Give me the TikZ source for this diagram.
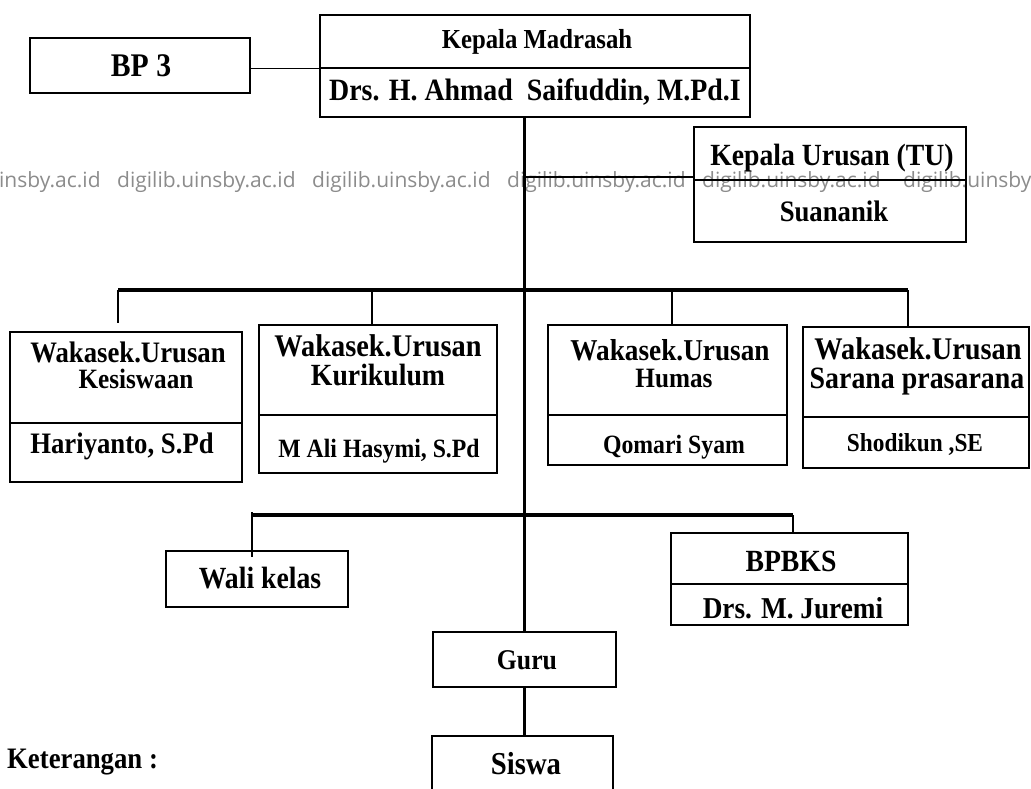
\documentclass[tikz,border=0pt]{standalone}
\usepackage{fontspec}
\setmainfont{Liberation Serif}[FakeStretch=0.9]
\newfontfamily\wmfont{Open Sans}
\newcommand\fsz[1]{\fontsize{#1}{#1}\selectfont}
\definecolor{wmgray}{RGB}{140,140,140}
\begin{document}
\begin{tikzpicture}[x=1pt,y=-1pt,
  box/.style={draw, line width=2.8pt, inner sep=0pt, outer sep=0pt, anchor=north west},
  txt/.style={anchor=base, inner sep=0pt, font=\bfseries\fsz{#1}},
  wm/.style={anchor=base west, inner sep=0pt, text=wmgray, font=\wmfont\fsz{21}},
  bus/.style={line width=3.2pt},
  link/.style={line width=2.4pt},
  thinlink/.style={line width=1pt},
  midlink/.style={line width=1.5pt}]
\fill[white] (0,0) rectangle (1031,789);
\useasboundingbox (0,0) rectangle (1031,789);

% watermark
\begin{scope}
  \clip (0,0) rectangle (1031,789);
  \node[wm] (wm1) at (-78,187) {digilib.uinsby.ac.id};
  \node[wm] (wm2) at (117,187) {digilib.uinsby.ac.id};
  \node[wm] (wm3) at (312,187) {digilib.uinsby.ac.id};
  \node[wm] (wm4) at (507,187) {digilib.uinsby.ac.id};
  \node[wm] (wm5) at (702,187) {digilib.uinsby.ac.id};
  \node[wm] (wm6) at (903,187) {digilib.uinsby.ac.id};
\end{scope}

% boxes
\node[box, minimum width=220pt, minimum height=55pt] (bp3) at (30,38) {};
\node[box, minimum width=430pt, minimum height=53pt] (kmA) at (320,15) {};
\node[box, minimum width=430pt, minimum height=49pt] (kmB) at (320,68) {};
\node[box, minimum width=272pt, minimum height=53pt] (kuA) at (694,127) {};
\node[box, minimum width=272pt, minimum height=62pt] (kuB) at (694,180) {};

\node[box, minimum width=232pt, minimum height=91pt] (ksA) at (10,332) {};
\node[box, minimum width=232pt, minimum height=59pt] (ksB) at (10,423) {};
\node[box, minimum width=238pt, minimum height=90pt] (krA) at (259,325) {};
\node[box, minimum width=238pt, minimum height=58pt] (krB) at (259,415) {};
\node[box, minimum width=239pt, minimum height=90pt] (hmA) at (548,325) {};
\node[box, minimum width=239pt, minimum height=50pt] (hmB) at (548,415) {};
\node[box, minimum width=226pt, minimum height=90pt] (saA) at (803,327) {};
\node[box, minimum width=226pt, minimum height=51pt] (saB) at (803,417) {};

\node[box, minimum width=182pt, minimum height=56pt] (wali) at (166,551) {};
\node[box, minimum width=237pt, minimum height=51pt] (bpA) at (671,533) {};
\node[box, minimum width=237pt, minimum height=41pt] (bpB) at (671,584) {};
\node[box, minimum width=183pt, minimum height=55pt] (guru) at (433,632) {};
\node[box, minimum width=181pt, minimum height=70pt] (siswa) at (432,736) {};

% texts
\node[txt=33] (tbp3) at (141,77) {BP 3};
\node[txt=27.5] (tkm) at (537,49) {Kepala Madrasah};
\node[txt=31] (tkmn) at (535,101) {Drs. H. Ahmad\ \ Saifuddin, M.Pd.I};
\node[txt=30.8] (tku) at (832,166) {Kepala Urusan (TU)};
\node[txt=29.7] (tkun) at (834,221) {Suananik};

\node[txt=29.7] (tks1) at (128,362) {Wakasek.Urusan};
\node[txt=28] (tks2) at (136,388) {Kesiswaan};
\node[txt=29.7] (tks3) at (122,453) {Hariyanto, S.Pd};

\node[txt=31.5] (tkr1) at (378,356) {Wakasek.Urusan};
\node[txt=30.8] (tkr2) at (378,385) {Kurikulum};
\node[txt=26.4] (tkr3) at (379,457) {M Ali Hasymi, S.Pd};

\node[txt=30.3] (thm1) at (670,360) {Wakasek.Urusan};
\node[txt=28] (thm2) at (674,387) {Humas};
\node[txt=26.4] (thm3) at (674,453) {Qomari Syam};

\node[txt=31.5] (tsa1) at (918,359) {Wakasek.Urusan};
\node[txt=31] (tsa2) at (917,388) {Sarana prasarana};
\node[txt=25.9] (tsa3) at (915,451) {Shodikun ,SE};

\node[txt=30.8] (twali) at (260,588) {Wali kelas};
\node[txt=30.8] (tbp1) at (791,571) {BPBKS};
\node[txt=30.3] (tbp2) at (793,618) {Drs. M. Juremi};
\node[txt=28.6] (tguru) at (527,669) {Guru};
\node[txt=31.9] (tsiswa) at (526,774) {Siswa};
\node[txt=29.7, anchor=base west] (tket) at (7,768) {Keterangan :};

% connectors
\coordinate (ubus) at (525,290);
\coordinate (lbus) at (525,515);

\draw[thinlink] ([yshift=-3.5pt]bp3.east) -- ([yshift=-3.5pt]bp3.east -| kmA.west);
\draw[link] (kmB.south -| guru.north) -- (guru.north);
\draw[midlink] ([yshift=3pt]kuA.south west -| guru.north) -- ([yshift=3pt]kuA.south west);

\draw[bus] ([xshift=-8pt]ksA.north |- ubus) -- ([xshift=-8pt]saA.north |- ubus);
\draw[link, shorten >=9pt] ([xshift=-8pt]ksA.north |- ubus) -- ([xshift=-8pt]ksA.north);
\draw[link] ([xshift=-6pt]krA.north |- ubus) -- ([xshift=-6pt]krA.north);
\draw[link] ([xshift=4.5pt]hmA.north |- ubus) -- ([xshift=4.5pt]hmA.north);
\draw[link] ([xshift=-8pt]saA.north |- ubus) -- ([xshift=-8pt]saA.north);

\draw[bus] ([xshift=-5pt]wali.north |- lbus) -- ([xshift=3.5pt]bpA.north |- lbus);
\draw[link] ([xshift=-5pt]wali.north |- lbus) ++(0,-3) -- ([xshift=-5pt,yshift=-6pt]wali.north);
\draw[link] ([xshift=3.5pt]bpA.north |- lbus) -- ([xshift=3.5pt]bpA.north);

\draw[link] (guru.south) -- (guru.south |- siswa.north);
\end{tikzpicture}
\end{document}
